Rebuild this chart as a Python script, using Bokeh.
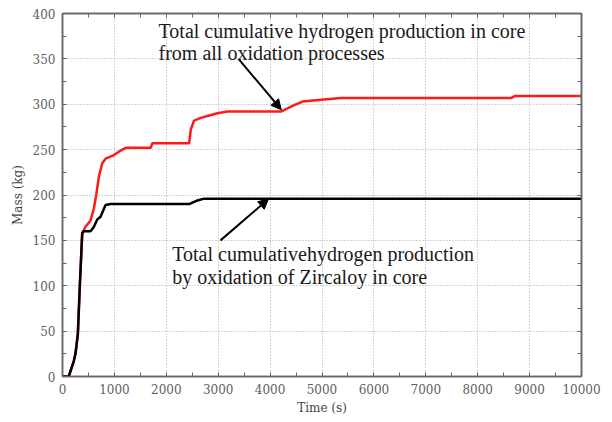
from bokeh.plotting import figure
from bokeh.models import (Arrow, NormalHead, Label, LinearAxis, Range1d,
                          SingleIntervalTicker, CustomJSTickFormatter)
from bokeh.embed import file_html
from bokeh.resources import INLINE

# Cumulative hydrogen mass (kg) versus time (s)
time_zr = [0, 120, 218, 250, 296, 335, 380, 411, 540, 605, 670, 733, 830, 927,
           2440, 2600, 2730, 10000]
mass_zr = [0, 0, 17, 25, 47, 102, 158, 160, 160, 165, 173, 176, 189, 190,
           190, 194, 196, 196]

time_all = [0, 120, 218, 250, 296, 335, 380, 444, 540, 600, 650, 700, 766, 830,
            990, 1120, 1216, 1700, 1731, 2440, 2471, 2535, 2664, 2793, 2986,
            3180, 4208, 4466, 4627, 4980, 5367, 8650, 8712, 10000]
mass_all = [0, 0, 17, 25, 47, 102, 158, 165, 172, 184, 200, 220, 235, 240,
            244, 249, 252, 252, 257, 257, 272, 282, 285, 287, 290,
            292, 292, 299, 303, 305, 307, 307, 309, 309]

# Annotation texts and their arrows (time, mass)
note_all = ["Total cumulative hydrogen production in core",
            "from all oxidation processes"]
note_all_pos = [(1850, 381), (1850, 357)]
arrow_all = (3391, 350, 4215, 294)

note_zr = ["Total cumulativehydrogen production",
           "by oxidation of Zircaloy in core"]
note_zr_pos = [(2114, 135), (2114, 109.5)]
arrow_zr = (3044, 150, 3969, 195.6)

x_ticks_step, y_ticks_step = 1000, 50

AXIS_GREY = "#666666"
LABEL_GREY = "#606060"
TICK_FONT = "DejaVu Serif"
NOTE_FONT = "Liberation Serif"

p = figure(width=612, height=422, output_backend="svg", toolbar_location=None,
           x_range=Range1d(0, 10000), y_range=Range1d(0, 400),
           min_border_left=62, min_border_right=31, min_border_top=13,
           min_border_bottom=46, x_axis_label="Time (s)", y_axis_label="Mass (kg)")
p.background_fill_color = "white"
p.border_fill_color = "white"
p.outline_line_color = AXIS_GREY
p.outline_line_width = 1.5

xt = SingleIntervalTicker(interval=x_ticks_step, num_minor_ticks=2)
yt = SingleIntervalTicker(interval=y_ticks_step, num_minor_ticks=2)


def style_axis(ax, show_labels=True):
    ax.axis_line_color = AXIS_GREY
    ax.axis_line_width = 1.5
    ax.major_tick_in = 4
    ax.major_tick_out = 0
    ax.minor_tick_in = 4
    ax.minor_tick_out = 0
    ax.major_tick_line_color = AXIS_GREY
    ax.minor_tick_line_color = AXIS_GREY
    ax.major_label_text_font = TICK_FONT
    ax.major_label_text_font_size = "12px"
    ax.major_label_text_color = LABEL_GREY
    ax.axis_label_text_font = TICK_FONT
    ax.axis_label_text_font_size = "12px"
    ax.axis_label_text_font_style = "normal"
    ax.axis_label_text_color = "#444444"
    if not show_labels:
        ax.formatter = CustomJSTickFormatter(code="return ''")
        ax.major_label_standoff = 0


p.xaxis[0].ticker = xt
p.yaxis[0].ticker = yt
style_axis(p.xaxis[0])
style_axis(p.yaxis[0])
p.xaxis[0].major_label_standoff = 7
p.yaxis[0].major_label_standoff = 7
p.xaxis[0].axis_label_standoff = 4
p.yaxis[0].axis_label_standoff = 5

right = LinearAxis(ticker=yt)
top = LinearAxis(ticker=xt)
style_axis(right, False)
style_axis(top, False)
p.add_layout(right, "right")
p.add_layout(top, "above")

for g, t in ((p.xgrid[0], xt), (p.ygrid[0], yt)):
    g.ticker = t
    g.grid_line_color = "#a8a8a8"
    g.grid_line_dash = "1 2"
    g.grid_line_width = 1

p.line(time_all, mass_all, line_color="#ff1a1a", line_width=2.5)
p.line(time_zr, mass_zr, line_color="black", line_width=2.5)

for (x0, y0, x1, y1) in (arrow_all, arrow_zr):
    p.add_layout(Arrow(x_start=x0, y_start=y0, x_end=x1, y_end=y1,
                       line_color="black", line_width=2,
                       end=NormalHead(size=10, fill_color="black",
                                      line_color="black", line_width=1)))

for texts, pos in ((note_all, note_all_pos), (note_zr, note_zr_pos)):
    for txt, (tx, ty) in zip(texts, pos):
        p.add_layout(Label(x=tx, y=ty, text=txt, text_font=NOTE_FONT,
                           text_font_size="20px", text_color="#1a1a1a",
                           text_baseline="middle", text_align="left"))

open("out.html", "w").write(file_html(p, INLINE))
